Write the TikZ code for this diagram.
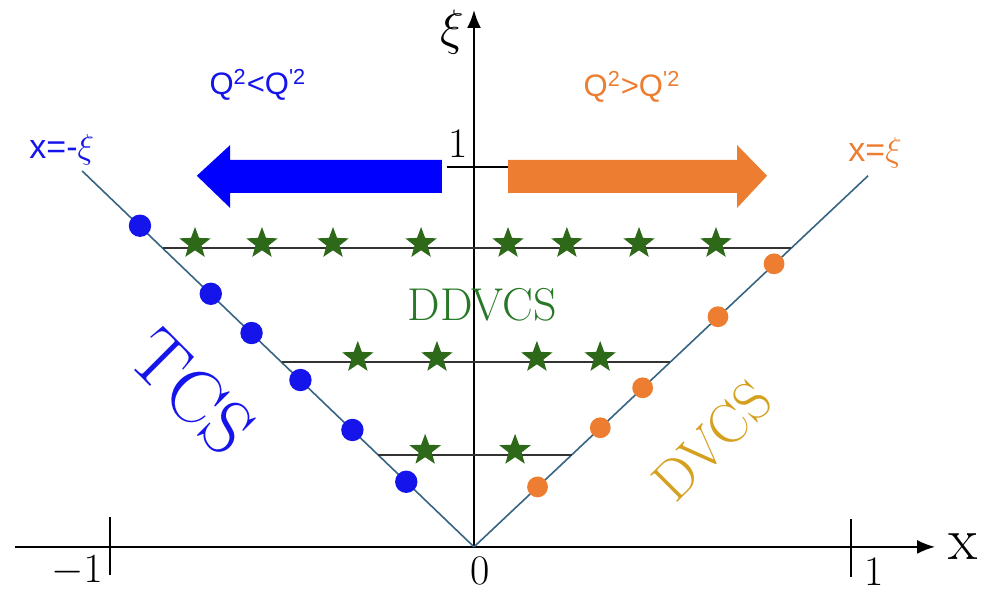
\documentclass[tikz,border=0pt]{standalone}
\usepackage{fontspec}
\newfontfamily\labelfont{Liberation Sans}
\usetikzlibrary{arrows.meta,shapes.geometric}
\definecolor{tcsblue}{RGB}{20,20,235}
\definecolor{dvcsorange}{RGB}{237,125,49}
\definecolor{dvcsgold}{RGB}{212,160,30}
\definecolor{stargreen}{RGB}{45,105,25}
\definecolor{ddvcsgreen}{RGB}{40,120,40}
\definecolor{linecol}{RGB}{55,100,130}
\begin{document}
\begin{tikzpicture}[x=6.5cm,y=6.5cm,
  axis/.style={line width=1pt,-{Latex[length=9pt,width=7pt]}},
  tickline/.style={line width=1pt},
  kinline/.style={line width=0.8pt,linecol},
  ddline/.style={line width=1.2pt,black!80},
  starpt/.style={star,star points=5,star point ratio=2.4,fill=stargreen,inner sep=0pt,minimum size=16.5pt},
  ticklabel/.style={font=\fontsize{21}{21}\selectfont,inner sep=0pt},
  sanslabel/.style={font=\labelfont\fontsize{17}{17}\selectfont,inner sep=0pt}]
\useasboundingbox (-1.281,-0.1135) rectangle (1.381,1.478);
% axes
\coordinate (O) at (0,0);
\coordinate (xl) at (-1.241,0);
\coordinate (xr) at (1.246,0);
\coordinate (yt) at (0,1.451);
\draw[axis] (xl) -- (xr);
\draw[axis] (O) -- (yt);
\draw[tickline] (-0.985,0.08) -- (-0.985,-0.075);
\draw[tickline] (1.02,0.075) -- (1.02,-0.08);
\draw[tickline] (-0.073,1.027) -- (0.097,1.027);
\node[ticklabel] (m1) at (-1.073,-0.066) {$-1$};
\node[ticklabel] (zero) at (0.016,-0.064) {0};
\node[ticklabel] (p1) at (1.081,-0.068) {1};
\node[ticklabel] (xi1) at (-0.043,1.089) {1};
\node[inner sep=0pt,font=\fontsize{30}{30}\selectfont] (xlab) at (1.322,0) {x};
\node[inner sep=0pt,font=\fontsize{25}{25}\selectfont] (xilab) at (-0.059,1.392) {$\xi$};
% kinematic lines x=-xi and x=xi
\coordinate (lend) at (-1.059,1.016);
\coordinate (rend) at (1.065,1.003);
\draw[kinline] (lend) -- (O);
\draw[kinline] (O) -- (rend);
\node[sanslabel,text=tcsblue] (lxi) at (-1.114,1.073) {x=-$\xi$};
\node[sanslabel,text=dvcsorange] (rxi) at (1.084,1.065) {x=$\xi$};
% DDVCS lines
\draw[ddline] (-0.840,0.808) -- (0.856,0.808);
\draw[ddline] (-0.520,0.5) -- (0.530,0.5);
\draw[ddline] (-0.259,0.249) -- (0.264,0.249);
\foreach \x [count=\i] in {-0.754,-0.573,-0.381,-0.143,0.092,0.251,0.446,0.654}
  \node[starpt] (sa\i) at (\x,0.820) {};
\foreach \x [count=\i] in {-0.314,-0.100,0.170,0.341}
  \node[starpt] (sb\i) at (\x,0.512) {};
\foreach \x [count=\i] in {-0.132,0.111}
  \node[starpt] (sc\i) at (\x,0.261) {};
% TCS and DVCS points
\foreach \y in {0.868,0.684,0.578,0.451,0.316,0.176}
  \fill[tcsblue] (-1.04*\y,\y) circle (5.6pt);
\foreach \y in {0.162,0.322,0.430,0.622,0.765}
  \fill[dvcsorange] (1.06*\y,\y) circle (5.2pt);
% big arrows
\fill[blue] (-0.0865,1.046) -- (-0.659,1.046) -- (-0.659,1.086) -- (-0.749,1.003)
  -- (-0.659,0.916) -- (-0.659,0.957) -- (-0.0865,0.957) -- cycle;
\fill[dvcsorange] (0.092,1.046) -- (0.711,1.046) -- (0.711,1.086) -- (0.792,1.003)
  -- (0.711,0.916) -- (0.711,0.957) -- (0.092,0.957) -- cycle;
\node[sanslabel,font=\labelfont\fontsize{15.5}{15.5}\selectfont,text=tcsblue] (qless) at (-0.584,1.249)
  {Q\textsuperscript{2}<Q\textsuperscript{'2}};
\node[sanslabel,font=\labelfont\fontsize{15.5}{15.5}\selectfont,text=dvcsorange] (qmore) at (0.427,1.243)
  {Q\textsuperscript{2}>Q\textsuperscript{'2}};
% process labels
\node[inner sep=0pt,text=ddvcsgreen,font=\fontsize{23}{23}\selectfont] (ddvcs) at (0.022,0.654) {DDVCS};
\node[inner sep=0pt,text=tcsblue,rotate=-45,font=\fontsize{38}{38}\selectfont] (tcs) at (-0.762,0.419) {TCS};
\node[inner sep=0pt,text=dvcsgold,rotate=45,font=\fontsize{28}{28}\selectfont] (dvcs) at (0.643,0.286) {DVCS};
\end{tikzpicture}
\end{document}
